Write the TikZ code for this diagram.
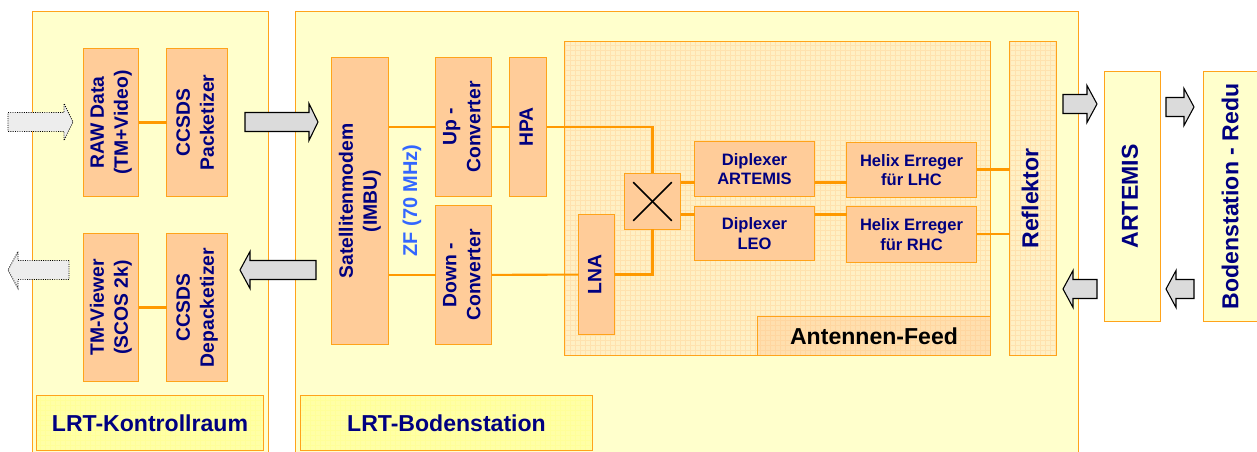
\documentclass[tikz,border=0pt]{standalone}
\usepackage{fontspec}
\usetikzlibrary{calc}
\setmainfont{Liberation Sans}
\definecolor{cyel}{HTML}{FFFFCC}
\definecolor{corg}{HTML}{FF9900}
\definecolor{cfrm}{HTML}{FFA31A}
\definecolor{cbox}{HTML}{FFCC99}
\definecolor{ctxt}{HTML}{000080}
\definecolor{cfeed}{HTML}{FFF0C4}
\definecolor{cgrid}{HTML}{FFE2AE}
\definecolor{clab}{HTML}{FFFFA6}
\definecolor{clabg}{HTML}{FFFF99}
\definecolor{cant}{HTML}{FFDFAE}
\definecolor{cantg}{HTML}{FFD6A0}
\definecolor{czf}{HTML}{3366FF}
\tikzset{
  x=0.75pt,y=-0.75pt,
  wire/.style={draw=corg,line width=1.6pt},
  frame/.style={draw=cfrm,line width=1pt,inner sep=0pt,outer sep=0pt},
  area/.style={frame,fill=cyel},
  block/.style={frame,fill=cbox,text=ctxt,font=\fontsize{14.5}{18}\selectfont\bfseries,align=center},
  smallblock/.style={block,font=\fontsize{12.4}{14.6}\selectfont\bfseries},
  bigtext/.style={text=ctxt,font=\fontsize{17.3}{20}\selectfont\bfseries},
  arrowfull/.style={draw=black,line width=0.8pt,fill=black!14},
  arrowfaint/.style={draw=black,densely dotted,line width=0.7pt,fill=black!7},
}
\newcommand{\bx}[7]{% style,name,x1,y1,x2,y2,text
  \pgfmathsetmacro{\mycx}{(#3+#5)/2+0.5}\pgfmathsetmacro{\mycy}{(#4+#6)/2+0.5}%
  \pgfmathsetmacro{\mywd}{(#5-#3)*0.75}\pgfmathsetmacro{\myht}{(#6-#4)*0.75}%
  \node[#1,minimum width=\mywd pt,minimum height=\myht pt] (#2) at (\mycx,\mycy) {#7};}
\newcommand{\rt}[1]{\rotatebox{90}{\begin{tabular}{@{}c@{}}#1\end{tabular}}}
% gridded box: style,name,x1,y1,x2,y2,fill,grid,text
\newcommand{\gbx}[9]{%
  \begin{scope}[shift={(0.5,0.5)}]
  \fill[#7] (#3,#4) rectangle (#5,#6);
  \clip (#3,#4) rectangle (#5,#6);
  \draw[#8,line width=0.3pt,step=3.75pt] (#3,#4) grid (#5,#6);
  \end{scope}
  \bx{#1}{#2}{#3}{#4}{#5}{#6}{#9}}
\newcommand{\harrow}[5]{%
  \draw[#1] (#2,#5-9.5) -- (#3,#5-9.5) -- (#3,#5-18.5) -- (#4,#5) -- (#3,#5+18.5) -- (#3,#5+9.5) -- (#2,#5+9.5) -- cycle;}
\begin{document}
\begin{tikzpicture}
\useasboundingbox (0,0) rectangle (1257,452);
% containers
\bx{area}{ctrl}{32}{11}{268}{456}{}
\bx{area}{station}{295}{11}{1078}{456}{}
\gbx{frame}{feed}{564}{41}{990}{355}{cfeed}{cgrid}{}
\gbx{frame,bigtext}{reflector}{1009}{41}{1056}{355}{cfeed}{cgrid}{\rt{Reflektor}}
\gbx{frame,bigtext}{lab1}{36}{395}{263}{450}{clab}{clabg}{LRT-Kontrollraum}
\gbx{frame,bigtext}{lab2}{300}{395}{592}{450}{clab}{clabg}{LRT-Bodenstation}
\gbx{frame,bigtext,text=black}{antlab}{757}{316}{990}{355}{cant}{cantg}{Antennen-Feed}
% blocks
\bx{block}{raw}{83}{48}{138}{196}{\rt{RAW Data\\(TM+Video)}}
\bx{block}{pack}{166}{48}{227}{196}{\rt{CCSDS\\Packetizer}}
\bx{block}{view}{83}{233}{138}{381}{\rt{TM-Viewer\\(SCOS 2k)}}
\bx{block}{depack}{166}{233}{227}{381}{\rt{CCSDS\\Depacketizer}}
\bx{block}{modem}{331}{57}{388}{344}{\rt{Satellitenmodem\\(IMBU)}}
\bx{block}{up}{435}{57}{491}{196}{\rt{Up -\\Converter}}
\bx{block}{down}{435}{205}{491}{344}{\rt{Down -\\Converter}}
\bx{block}{hpa}{509}{57}{546}{196}{\rt{HPA}}
\bx{block}{lna}{578}{214}{614}{334}{\rt{LNA}}
\bx{block}{mix}{624}{173}{680}{229}{}
\bx{smallblock}{dipa}{694}{141}{814}{196}{Diplexer\\ARTEMIS}
\bx{smallblock}{dipl}{694}{206}{814}{260}{Diplexer\\LEO}
\bx{smallblock}{hellhc}{846}{142}{976}{197}{Helix Erreger\\für LHC}
\bx{smallblock}{helrhc}{846}{206}{976}{262}{Helix Erreger\\für RHC}
\bx{area,bigtext}{artemis}{1104}{71}{1160}{321}{\rt{ARTEMIS}}
\bx{area,bigtext}{redu}{1203}{71}{1262}{321}{\rt{Bodenstation - Redu}}
% mixer cross
\coordinate (mc) at (mix.center);
\draw[black,line width=1.2pt,line cap=round] ($(mc)+(-19,-19)$) -- ($(mc)+(19,19)$);
\draw[black,line width=1.2pt,line cap=round] ($(mc)+(19,-19)$) -- ($(mc)+(-19,19)$);
% connectors
\coordinate (ya) at (0,182.5);
\coordinate (yb) at (0,214.5);
\coordinate (yc) at (0,169.5);
\coordinate (yd) at (0,234);
\draw[wire] (modem.east |- up) -- (up);
\draw[wire] (modem.east |- down) -- (down);
\draw[wire] (raw) -- (pack);
\draw[wire] (view) -- (depack);
\draw[wire] (up) -- (hpa);
\draw[wire] (hpa) -| (mix);
\draw[wire] (down) -- (lna);
\draw[wire] (lna) -| (mix);
\draw[wire] (mix.east |- ya) -- (dipa.west |- ya);
\draw[wire] (mix.east |- yb) -- (dipl.west |- yb);
\draw[wire] (dipa.east |- ya) -- (hellhc.west |- ya);
\draw[wire] (dipl.east |- yb) -- (helrhc.west |- yb);
\draw[wire] (hellhc.east |- yc) -- (reflector.west |- yc);
\draw[wire] (helrhc.east |- yd) -- (reflector.west |- yd);
% IF label
\node[text=czf,font=\fontsize{15}{18}\selectfont\bfseries,rotate=90] (zf) at (412,200.5) {ZF (70 MHz)};
% block arrows
\harrow{arrowfaint}{8}{64}{73}{122}
\harrow{arrowfull}{245}{309}{318}{122}
\harrow{arrowfaint}{69}{18}{8}{270}
\harrow{arrowfull}{316}{250}{240}{270}
\harrow{arrowfull}{1063}{1087}{1097}{104}
\harrow{arrowfull}{1166}{1184}{1194}{107}
\harrow{arrowfull}{1097}{1073}{1063}{289}
\harrow{arrowfull}{1194}{1176}{1166}{289}
\end{tikzpicture}
\end{document}
